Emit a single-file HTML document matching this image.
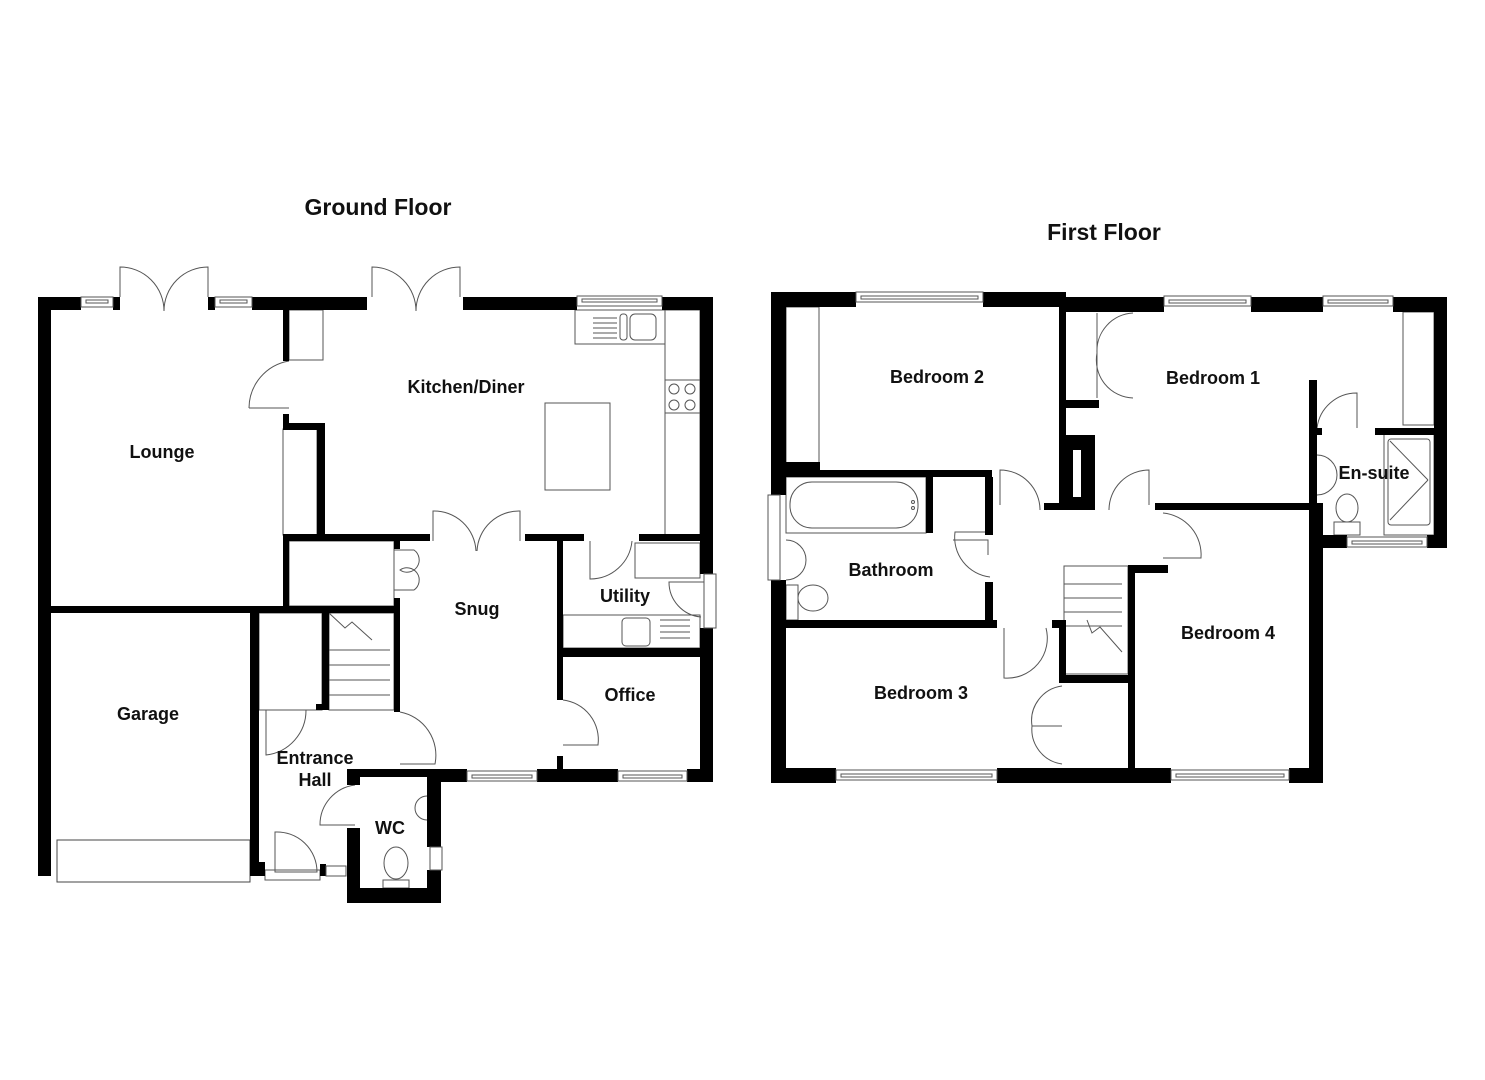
<!DOCTYPE html>
<html><head><meta charset="utf-8"><style>
html,body{margin:0;padding:0;background:#fff;}
svg{display:block}
text{font-family:"Liberation Sans",Arial,sans-serif;font-weight:bold;fill:#111;}
</style></head><body>
<svg width="1485" height="1080" viewBox="0 0 1485 1080" xmlns="http://www.w3.org/2000/svg">
<rect width="1485" height="1080" fill="#fff"/>
<text x="378" y="215" font-size="23" text-anchor="middle">Ground Floor</text>
<text x="1104" y="240" font-size="23" text-anchor="middle">First Floor</text>

<g fill="none" stroke="#555" stroke-width="1">
<rect x="289" y="310" width="34" height="50"/>
<rect x="283" y="429" width="34" height="106"/>
<rect x="575" y="310" width="90" height="34"/>
<rect x="665" y="310" width="35" height="225"/>
<rect x="665" y="380" width="35" height="33"/>
<circle cx="674" cy="389" r="5"/><circle cx="690" cy="389" r="5"/>
<circle cx="674" cy="405" r="5"/><circle cx="690" cy="405" r="5"/>
<line x1="593" y1="318" x2="617" y2="318"/><line x1="593" y1="323" x2="617" y2="323"/><line x1="593" y1="328" x2="617" y2="328"/><line x1="593" y1="333" x2="617" y2="333"/><line x1="593" y1="338" x2="617" y2="338"/>
<rect x="620" y="314" width="7" height="26" rx="3"/>
<rect x="630" y="314" width="26" height="26" rx="5"/>
<rect x="545" y="403" width="65" height="87"/>
<rect x="635" y="543" width="65" height="35"/>
<rect x="563" y="615" width="137" height="33"/>
<rect x="622" y="618" width="28" height="28" rx="4"/>
<line x1="660" y1="620" x2="690" y2="620"/><line x1="660" y1="626" x2="690" y2="626"/><line x1="660" y1="632" x2="690" y2="632"/><line x1="660" y1="638" x2="690" y2="638"/>
<rect x="289" y="541" width="105" height="65"/>
<rect x="329" y="613" width="65" height="97"/>
<line x1="329" y1="650" x2="390" y2="650"/><line x1="329" y1="665" x2="390" y2="665"/><line x1="329" y1="680" x2="390" y2="680"/><line x1="329" y1="695" x2="390" y2="695"/>
<polyline points="329,613 345,628 352,622 372,640"/>
<rect x="259" y="613" width="63" height="97"/>
<rect x="57" y="840" width="193" height="42" stroke="#444"/>
<ellipse cx="396" cy="863" rx="12" ry="16"/>
<rect x="383" y="880" width="26" height="8"/>
<path d="M427 796 a12 12 0 0 0 0 24"/>
<path d="M120 297 v-30 a44 44 0 0 1 44 44 M208 297 v-30 a44 44 0 0 0 -44 44"/>
<path d="M372 297 v-30 a44 44 0 0 1 44 44 M460 297 v-30 a44 44 0 0 0 -44 44"/>
<path d="M249 408 a48 48 0 0 1 40 -47 M249 408 h40"/>
<path d="M433 541 v-30 a42 42 0 0 1 43 40 M520 541 v-30 a42 42 0 0 0 -43 40"/>
<path d="M590 541 v38 a42 42 0 0 0 42 -38"/>
<path d="M704 582 h-35 a35 35 0 0 0 32 35"/>
<path d="M394 550 h20 a10 10 0 0 1 -14 20 a10 10 0 0 1 14 20 h-20"/>
<path d="M563 745 h35 a40 40 0 0 0 -35 -45"/>
<path d="M400 712 a44 44 0 0 1 35 52 h-35"/>
<path d="M266 710 v45 a45 45 0 0 0 40 -45"/>
<path d="M355 785 a40 40 0 0 0 -35 40 h35"/>
<path d="M275 832 a40 40 0 0 1 42 40 h-42 z"/>
<rect x="265" y="870" width="55" height="10"/>
<rect x="786" y="307" width="33" height="163"/>
<rect x="1403" y="312" width="31" height="113"/>
<rect x="786" y="477" width="140" height="56"/>
<rect x="790" y="482" width="128" height="46" rx="22"/>
<circle cx="913" cy="502" r="1.5"/><circle cx="913" cy="508" r="1.5"/>
<path d="M786 540 a20 20 0 0 1 0 40"/>
<ellipse cx="813" cy="598" rx="15" ry="13"/>
<rect x="786" y="585" width="12" height="35"/>
<rect x="1384" y="434" width="50" height="101"/>
<rect x="1388" y="439" width="42" height="86" rx="3"/>
<line x1="1390" y1="441" x2="1428" y2="480"/><line x1="1428" y1="480" x2="1390" y2="520"/>
<path d="M1317 455 a20 20 0 0 1 0 40"/>
<ellipse cx="1347" cy="508" rx="11" ry="14"/>
<rect x="1334" y="522" width="26" height="13"/>
<rect x="1064" y="566" width="64" height="108"/>
<line x1="1064" y1="584" x2="1122" y2="584"/><line x1="1064" y1="598" x2="1122" y2="598"/><line x1="1064" y1="612" x2="1122" y2="612"/><line x1="1064" y1="626" x2="1122" y2="626"/>
<polyline points="1087,620 1092,633 1100,627 1122,652"/>
<path d="M1097 313 v40 a38 38 0 0 1 36 -40 M1097 398 v-45 a38 38 0 0 0 36 45"/>
<path d="M1000 505 v-35 a40 40 0 0 1 40 40"/>
<path d="M1149 505 v-35 a40 40 0 0 0 -40 40"/>
<path d="M1163 513 a42 42 0 0 1 38 45 h-38"/>
<path d="M990 532 h-35 a40 40 0 0 0 35 45"/>
<path d="M953 540 h35 v15"/>
<path d="M1004 628 v50 a40 40 0 0 0 42 -50"/>
<path d="M1062 686 a35 35 0 0 0 -30 40 a35 35 0 0 0 30 38 M1032 726 h30"/>
<path d="M1317 428 a40 40 0 0 1 40 -35 v35"/>
</g>

<g fill="#000">
<rect x="38" y="297" width="13" height="579"/>
<rect x="38" y="297" width="43" height="13"/>
<rect x="113" y="297" width="7" height="13"/>
<rect x="208" y="297" width="7" height="13"/>
<rect x="252" y="297" width="115" height="13"/>
<rect x="463" y="297" width="114" height="13"/>
<rect x="662" y="297" width="51" height="13"/>
<rect x="700" y="297" width="13" height="277"/>
<rect x="700" y="628" width="13" height="154"/>
<rect x="441" y="769" width="26" height="13"/>
<rect x="537" y="769" width="81" height="13"/>
<rect x="687" y="769" width="26" height="13"/>
<rect x="283" y="310" width="6" height="51"/>
<rect x="283" y="414" width="6" height="15"/>
<rect x="283" y="423" width="42" height="7"/>
<rect x="317" y="423" width="8" height="113"/>
<rect x="283" y="534" width="147" height="7"/>
<rect x="525" y="534" width="59" height="7"/>
<rect x="639" y="534" width="61" height="7"/>
<rect x="283" y="534" width="6" height="79"/>
<rect x="51" y="606" width="345" height="7"/>
<rect x="394" y="541" width="6" height="8"/>
<rect x="394" y="598" width="6" height="114"/>
<rect x="322" y="609" width="7" height="101"/>
<rect x="316" y="704" width="13" height="6"/>
<rect x="557" y="541" width="6" height="159"/>
<rect x="557" y="756" width="6" height="20"/>
<rect x="557" y="648" width="143" height="9"/>
<rect x="250" y="613" width="9" height="263"/>
<rect x="250" y="862" width="15" height="14"/>
<rect x="320" y="864" width="6" height="12"/>
<rect x="354" y="769" width="113" height="8"/>
<rect x="347" y="769" width="13" height="16"/>
<rect x="347" y="828" width="13" height="75"/>
<rect x="347" y="888" width="94" height="15"/>
<rect x="427" y="769" width="14" height="78"/>
<rect x="427" y="870" width="14" height="33"/>
<rect x="771" y="292" width="15" height="203"/>
<rect x="771" y="580" width="15" height="203"/>
<rect x="771" y="292" width="85" height="15"/>
<rect x="983" y="292" width="83" height="15"/>
<rect x="1059" y="297" width="105" height="15"/>
<rect x="1251" y="297" width="72" height="15"/>
<rect x="1393" y="297" width="54" height="15"/>
<rect x="1434" y="297" width="13" height="251"/>
<rect x="1323" y="535" width="24" height="13"/>
<rect x="1427" y="535" width="20" height="13"/>
<rect x="1309" y="380" width="8" height="125"/>
<rect x="1309" y="503" width="14" height="280"/>
<rect x="1317" y="428" width="5" height="7"/>
<rect x="1375" y="428" width="72" height="7"/>
<rect x="771" y="768" width="65" height="15"/>
<rect x="997" y="768" width="174" height="15"/>
<rect x="1289" y="768" width="34" height="15"/>
<rect x="786" y="470" width="206" height="7"/>
<rect x="786" y="462" width="34" height="15"/>
<rect x="1059" y="307" width="7" height="203"/>
<rect x="1066" y="400" width="33" height="8"/>
<rect x="1066" y="435" width="29" height="75"/>
<rect x="1044" y="503" width="22" height="7"/>
<rect x="1155" y="503" width="154" height="7"/>
<rect x="985" y="477" width="8" height="58"/>
<rect x="926" y="477" width="7" height="56"/>
<rect x="985" y="582" width="8" height="46"/>
<rect x="771" y="620" width="226" height="8"/>
<rect x="1052" y="620" width="14" height="8"/>
<rect x="1059" y="620" width="7" height="60"/>
<rect x="1059" y="675" width="69" height="8"/>
<rect x="1128" y="565" width="7" height="203"/>
<rect x="1128" y="565" width="40" height="8"/>
</g>
<rect x="1073" y="450" width="8" height="47" fill="#fff"/>

<g fill="#fff" stroke="#555" stroke-width="1">
<rect x="81" y="297" width="32" height="10"/><rect x="86" y="300" width="22" height="3"/>
<rect x="215" y="297" width="37" height="10"/><rect x="220" y="300" width="27" height="3"/>
<rect x="577" y="296" width="85" height="10"/><rect x="582" y="299" width="75" height="3"/>
<rect x="704" y="574" width="12" height="54"/>
<rect x="467" y="771" width="70" height="10"/><rect x="472" y="775" width="60" height="3"/>
<rect x="618" y="771" width="69" height="10"/><rect x="623" y="775" width="59" height="3"/>
<rect x="430" y="847" width="12" height="23"/>
<rect x="326" y="866" width="20" height="10"/>
<rect x="856" y="292" width="127" height="10"/><rect x="861" y="296" width="117" height="3"/>
<rect x="1164" y="296" width="87" height="10"/><rect x="1169" y="300" width="77" height="3"/>
<rect x="1323" y="296" width="70" height="10"/><rect x="1328" y="300" width="60" height="3"/>
<rect x="1347" y="537" width="80" height="10"/><rect x="1352" y="541" width="70" height="3"/>
<rect x="768" y="495" width="12" height="85"/>
<rect x="836" y="770" width="161" height="10"/><rect x="841" y="774" width="151" height="3"/>
<rect x="1171" y="770" width="118" height="10"/><rect x="1176" y="774" width="108" height="3"/>
</g>

<g font-size="18" text-anchor="middle">
<text x="162" y="458">Lounge</text>
<text x="466" y="393">Kitchen/Diner</text>
<text x="477" y="615">Snug</text>
<text x="625" y="602">Utility</text>
<text x="630" y="701">Office</text>
<text x="148" y="720">Garage</text>
<text x="315" y="764">Entrance</text>
<text x="315" y="786">Hall</text>
<text x="390" y="834">WC</text>
<text x="937" y="383">Bedroom 2</text>
<text x="1213" y="384">Bedroom 1</text>
<text x="1374" y="479">En-suite</text>
<text x="891" y="576">Bathroom</text>
<text x="1228" y="639">Bedroom 4</text>
<text x="921" y="699">Bedroom 3</text>
</g>
</svg>
</body></html>
